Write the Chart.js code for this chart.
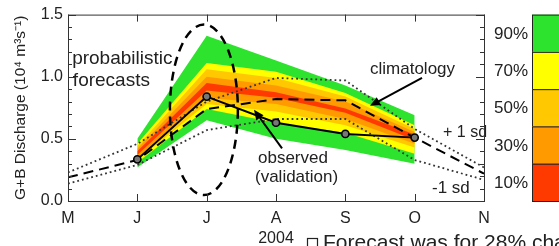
<!DOCTYPE html>
<html><head><meta charset="utf-8">
<script src="https://cdn.jsdelivr.net/npm/chart.js@4.4.0/dist/chart.umd.min.js"></script>
<style>html,body{margin:0;padding:0;background:#fff;overflow:hidden}#wrap{width:559px;height:246px;position:relative}</style>
</head><body><div id="wrap"><canvas id="c" width="559" height="246"></canvas></div>
<script>
// ---- data (month index: 0=M ... 6=N) ----
const monthLabels = ['M','J','J','A','S','O','N'];
const forecastIdx = [1, 2, 3, 4, 5];
const p90Hi = [0.50, 1.33, 1.13, 0.93, 0.69];
const p70Hi = [0.46, 1.11, 1.04, 0.87, 0.61];
const p50Hi = [0.44, 1.06, 0.99, 0.84, 0.58];
const p30Hi = [0.42, 1.00, 0.93, 0.80, 0.555];
const p10Hi = [0.40, 0.95, 0.875, 0.745, 0.535];
const p10Lo = [0.37, 0.89, 0.83, 0.71, 0.49];
const p30Lo = [0.35, 0.83, 0.78, 0.66, 0.46];
const p50Lo = [0.33, 0.78, 0.72, 0.61, 0.43];
const p70Lo = [0.31, 0.74, 0.63, 0.55, 0.38];
const p90Lo = [0.27, 0.65, 0.50, 0.41, 0.30];
const observed   = [null, 0.335, 0.84, 0.63, 0.54, 0.51, null];
const climMean   = [0.19, 0.33, 0.74, 0.82, 0.81, 0.51, 0.22];
const climPlus1  = [0.23, 0.46, 0.80, 0.99, 0.97, 0.58, 0.27];
const climMinus1 = [0.14, 0.29, 0.57, 0.66, 0.66, 0.33, 0.17];
const legendLabels = ['90%', '70%', '50%', '30%', '10%'];
const bandColors = ['#2ee32e', '#ffff00', '#ffc800', '#ff9a00', '#ff3a00'];
const yTitle = 'G+B Discharge (10\u2074 m\u00b3s\u207b\u00b9)';
const yearLabel = '2004';
const caption = 'Forecast was for 28% chance';
// annotations in data units
const ellipseAnn = {cx: 1.96, cy: 0.734, rx: 0.49, ry: 0.686};
const textAnn = [
  {t: 'probabilistic', x: 0.06, y: 1.10, size: 19},
  {t: 'forecasts', x: 0.07, y: 0.926, size: 19},
  {t: 'climatology', x: 4.356, y: 1.021, size: 17},
  {t: 'observed', x: 2.74, y: 0.303, size: 17},
  {t: '(validation)', x: 2.697, y: 0.152, size: 17},
  {t: '+ 1 sd', x: 5.409, y: 0.511, size: 16},
  {t: '-1 sd', x: 5.25, y: 0.064, size: 17}
];
const arrowAnn = [
  {x0: 5.106, y0: 0.99, x1: 4.356, y1: 0.766},
  {x0: 3.087, y0: 0.423, x1: 2.683, y1: 0.734}
];

const FONT = '"Liberation Sans", Arial, Helvetica, sans-serif';
const toXY = (vals, idx) => vals.map((v, i) => ({x: idx ? idx[i] : i, y: v}));
const allIdx = monthLabels.map((_, i) => i);

function band(hi, lo, color) {
  return [
    {data: toXY(hi, forecastIdx), fill: '+1', backgroundColor: color, borderWidth: 0, pointRadius: 0, borderColor: color},
    {data: toXY(lo, forecastIdx), fill: false, borderWidth: 0, pointRadius: 0, borderColor: color}
  ];
}

const datasets = [
  {data: toXY(observed, allIdx), borderColor: '#000', borderWidth: 2, pointRadius: 3.6, pointBorderWidth: 1.6,
   pointBorderColor: '#000', pointBackgroundColor: '#777', fill: false, spanGaps: false},
  {data: toXY(climMean, allIdx), borderColor: '#000', borderWidth: 2, borderDash: [10, 6], pointRadius: 0, fill: false},
  {data: toXY(climPlus1, allIdx), borderColor: '#333', borderWidth: 1.8, borderDash: [1.8, 3], pointRadius: 0, fill: false},
  {data: toXY(climMinus1, allIdx), borderColor: '#333', borderWidth: 1.8, borderDash: [1.8, 3], pointRadius: 0, fill: false},
  ...band(p10Hi, p10Lo, bandColors[4]),
  ...band(p30Hi, p30Lo, bandColors[3]),
  ...band(p50Hi, p50Lo, bandColors[2]),
  ...band(p70Hi, p70Lo, bandColors[1]),
  ...band(p90Hi, p90Lo, bandColors[0])
];

function arrow(ctx, x0, y0, x1, y1) {
  const ang = Math.atan2(y1 - y0, x1 - x0);
  const L = 10, W = 4.5;
  ctx.beginPath(); ctx.moveTo(x0, y0);
  ctx.lineTo(x1 - Math.cos(ang) * L * 0.8, y1 - Math.sin(ang) * L * 0.8); ctx.stroke();
  ctx.beginPath();
  ctx.moveTo(x1, y1);
  ctx.lineTo(x1 - Math.cos(ang) * L + Math.sin(ang) * W, y1 - Math.sin(ang) * L - Math.cos(ang) * W);
  ctx.lineTo(x1 - Math.cos(ang) * L - Math.sin(ang) * W, y1 - Math.sin(ang) * L + Math.cos(ang) * W);
  ctx.closePath(); ctx.fill();
}

const deco = {
  id: 'deco',
  afterDatasetsDraw(chart) {
    const {ctx, scales: {x, y}} = chart;
    ctx.save();
    const cx = x.getPixelForValue(ellipseAnn.cx), cy = y.getPixelForValue(ellipseAnn.cy);
    const rx = x.getPixelForValue(ellipseAnn.cx + ellipseAnn.rx) - cx;
    const ry = cy - y.getPixelForValue(ellipseAnn.cy + ellipseAnn.ry);
    ctx.setLineDash([9, 6]); ctx.lineWidth = 2.5; ctx.strokeStyle = '#000';
    ctx.beginPath(); ctx.ellipse(cx, cy, rx, ry, 0, 0, Math.PI * 2); ctx.stroke();
    ctx.setLineDash([]);
    ctx.lineWidth = 2; ctx.fillStyle = '#000';
    arrowAnn.forEach(a => arrow(ctx, x.getPixelForValue(a.x0), y.getPixelForValue(a.y0), x.getPixelForValue(a.x1), y.getPixelForValue(a.y1)));
    ctx.fillStyle = '#222'; ctx.textAlign = 'left'; ctx.textBaseline = 'alphabetic';
    textAnn.forEach(t => { ctx.font = t.size + 'px ' + FONT; ctx.fillText(t.t, x.getPixelForValue(t.x), y.getPixelForValue(t.y)); });
    ctx.restore();
  },
  afterDraw(chart) {
    const {ctx, chartArea: a, scales: {x, y}} = chart;
    ctx.save();
    ctx.strokeStyle = '#333'; ctx.lineWidth = 1;
    ctx.strokeRect(a.left + 0.5, a.top + 0.5, a.right - a.left, a.bottom - a.top);
    ctx.beginPath();
    for (let k = 0; k <= 15; k++) {
      const v = k / 10, py = Math.round(y.getPixelForValue(v)) + 0.5;
      const len = (k % 5 === 0) ? 8 : 4;
      ctx.moveTo(a.left, py); ctx.lineTo(a.left + len, py);
      ctx.moveTo(a.right, py); ctx.lineTo(a.right - len, py);
    }
    for (let i = 0; i < monthLabels.length; i++) {
      const px = Math.round(x.getPixelForValue(i)) + 0.5;
      ctx.moveTo(px, a.bottom); ctx.lineTo(px, a.bottom - 7);
      ctx.moveTo(px, a.top); ctx.lineTo(px, a.top + 7);
    }
    ctx.stroke();
    const bx = a.right + 48, bw = 40, segH = (a.bottom - a.top) / bandColors.length;
    ctx.font = '17px ' + FONT; ctx.textAlign = 'right'; ctx.textBaseline = 'middle';
    bandColors.forEach((c, i) => {
      const y0 = a.top + i * segH;
      ctx.fillStyle = c; ctx.fillRect(bx, y0, bw, segH);
      ctx.strokeStyle = '#222'; ctx.strokeRect(bx + 0.5, y0 + 0.5, bw, segH);
      ctx.fillStyle = '#222'; ctx.fillText(legendLabels[i], bx - 4, y0 + segH / 2 + 1);
    });
    ctx.textBaseline = 'alphabetic'; ctx.textAlign = 'center';
    ctx.font = '16px ' + FONT;
    ctx.fillText(yearLabel, x.getPixelForValue(3), a.bottom + 42);
    ctx.strokeStyle = '#222'; ctx.lineWidth = 1.2;
    ctx.strokeRect(307.5, a.bottom + 37.5, 10, 11);
    ctx.textAlign = 'left'; ctx.font = '21px ' + FONT;
    ctx.fillText(caption, 323, a.bottom + 48);
    ctx.restore();
  }
};

new Chart(document.getElementById('c'), {
  type: 'line',
  data: {datasets},
  options: {
    responsive: false, animation: false, devicePixelRatio: 1,
    layout: {padding: {left: 0, right: 75, top: 13, bottom: 0}},
    elements: {line: {tension: 0}},
    plugins: {legend: {display: false}, tooltip: {enabled: false}, filler: {propagate: false}},
    scales: {
      x: {type: 'linear', min: 0, max: 6,
          grid: {display: false, drawTicks: false}, border: {display: false},
          ticks: {stepSize: 1, autoSkip: false, maxRotation: 0, padding: 8, color: '#222',
                  font: {family: FONT, size: 16},
                  callback: v => monthLabels[v] ?? ''},
          afterFit: s => { s.height = 45; }},
      y: {type: 'linear', min: 0, max: 1.5,
          grid: {display: false, drawTicks: false}, border: {display: false},
          ticks: {stepSize: 0.5, padding: 5, color: '#222', font: {family: FONT, size: 16},
                  callback: v => v.toFixed(1)},
          title: {display: true, text: yTitle, color: '#222', font: {family: FONT, size: 15.5}, padding: {top: 11, bottom: 0}},
          afterFit: s => { s.width = 68; }}
    }
  },
  plugins: [deco]
});
</script></body></html>
